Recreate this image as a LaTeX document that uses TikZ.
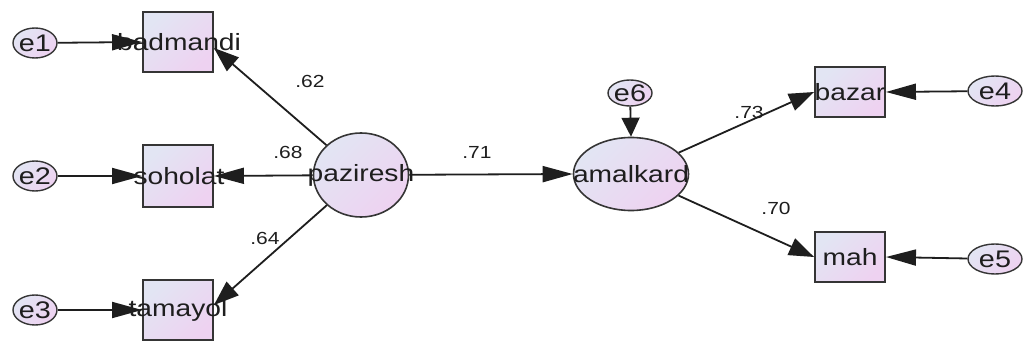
\documentclass[tikz,border=0pt]{standalone}
\usepackage{fontspec}
\setmainfont[FakeStretch=1.2]{Liberation Sans}
\usetikzlibrary{arrows.meta,shapes.geometric,calc}
\definecolor{fillA}{RGB}{226,229,243}
\definecolor{fillB}{RGB}{238,210,241}
\definecolor{ink}{RGB}{30,30,30}
\tikzset{
  shade/.style={top color=fillA, bottom color=fillB, shading angle=45},
  obs/.style={rectangle, draw=ink!90, line width=1.9pt, shade, minimum width=70pt, inner sep=0pt},
  lat/.style={ellipse, draw=ink!90, line width=1.6pt, shade, inner sep=0pt},
  err/.style={ellipse, draw=ink!90, line width=1.4pt, shade, minimum width=44pt, minimum height=30pt, inner sep=0pt},
  ntxt/.style={text=ink, inner sep=0pt, font=\fontsize{23.5}{25}\selectfont},
  etxt/.style={text=ink, inner sep=0pt, font=\fontsize{24}{26}\selectfont},
  lbl/.style={text=ink, inner sep=0pt, font=\fontsize{17.5}{19}\selectfont},
  conn/.style={draw=ink, line width=1.8pt},
  hh/.style={conn, -{Triangle[length=30pt,width=16pt]}},
  vh/.style={conn, -{Triangle[length=19pt,width=18pt]}},
  dh/.style={conn, -{Triangle[length=25pt,width=18pt]}}
}
\begin{document}
\begin{tikzpicture}[x=1pt,y=-1pt]
\useasboundingbox[fill=white] (0,0) rectangle (1025,342);

% observed boxes
\node[obs, minimum height=60pt] (badmandi) at (178,42) {};
\node[obs, minimum height=62pt] (soholat) at (178,176) {};
\node[obs, minimum height=60pt] (tamayol) at (178,310) {};
\node[obs, minimum height=50pt] (bazar) at (850,92) {};
\node[obs, minimum height=50pt] (mah) at (850,257) {};

% latent
\node[lat, minimum width=95pt, minimum height=84pt] (paziresh) at (361,175) {};
\node[lat, minimum width=115pt, minimum height=73pt] (amalkard) at (631,174) {};

% errors
\node[err] (e1) at (35,43) {};
\node[err] (e2) at (35,176) {};
\node[err] (e3) at (35,310) {};
\node[err, minimum height=26pt] (e6) at (630,93) {};
\node[err, minimum width=54pt] (e4) at (995,91) {};
\node[err, minimum width=54pt] (e5) at (995,259) {};

% texts
\node[ntxt] (t-badmandi) at (179,42) {badmandi};
\node[ntxt] (t-soholat) at (179,176) {soholat};
\node[ntxt] (t-tamayol) at (178,310) {tamayol};
\node[ntxt] (t-bazar) at (850,92) {bazar};
\node[ntxt] (t-mah) at (850,257) {mah};
\node[ntxt] (t-paziresh) at (361,175) {paziresh};
\node[ntxt] (t-amalkard) at (631,174) {amalkard};
\node[etxt] (t-e1) at (35,43) {e1};
\node[etxt] (t-e2) at (35,176) {e2};
\node[etxt] (t-e3) at (35,310) {e3};
\node[etxt] (t-e6) at (630,93) {e6};
\node[etxt] (t-e4) at (995,91) {e4};
\node[etxt] (t-e5) at (995,259) {e5};

% coordinates for arrow tips
\coordinate (tipB) at ($(badmandi.east)+(0,6)$);
\coordinate (tipT) at ($(tamayol.east)+(0,-5)$);

% error arrows
\draw[hh] (e1) -- (badmandi.west);
\draw[hh] (e2) -- (soholat.west);
\draw[hh] (e3) -- (tamayol.west);
\draw[hh] (e4) -- (bazar.east);
\draw[hh] (e5) -- (mah.east);
\draw[vh] (e6) -- (amalkard.north);

% loadings
\draw[dh] (paziresh) -- (tipB);
\draw[hh] (paziresh) -- (soholat.east);
\draw[dh] (paziresh) -- (tipT);
\draw[hh] (paziresh) -- (amalkard.west);
\draw[dh] (amalkard) -- (bazar.west);
\draw[dh] (amalkard) -- (mah.west);

% labels
\node[lbl] (l62) at (310,81) {.62};
\node[lbl] (l68) at (288,152) {.68};
\node[lbl] (l64) at (265,238) {.64};
\node[lbl] (l71) at (477,152) {.71};
\node[lbl] (l73) at (749,112) {.73};
\node[lbl] (l70) at (776,208) {.70};
\end{tikzpicture}
\end{document}
